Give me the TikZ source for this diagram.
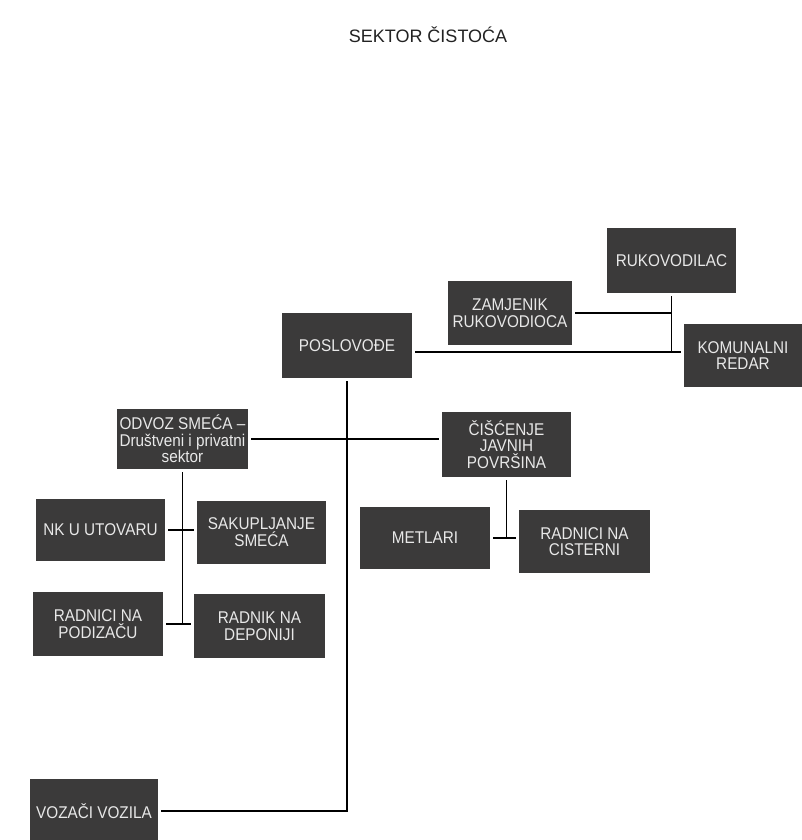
\documentclass[tikz,border=0pt]{standalone}
\usepackage{fontspec}
\setmainfont{Liberation Sans}
\newfontfamily\boxfont[FakeStretch=0.9]{Liberation Sans}
\definecolor{boxfill}{HTML}{3B3A3A}
\definecolor{boxtext}{HTML}{E8E8E8}
\definecolor{titletext}{HTML}{222222}
\tikzset{
  box/.style={fill=boxfill, text=boxtext, align=center, inner sep=1pt, outer sep=3pt,
    minimum width=130pt, minimum height=63pt, font=\boxfont\fontsize{17}{16.5}\selectfont},
  link/.style={line width=1.6pt, black}
}
\begin{document}
\begin{tikzpicture}[x=1pt, y=-1pt]
		\path[use as bounding box, fill=white] (0,0) rectangle (802,840);
		
		\node[text=titletext, font=\fontsize{18}{18}\selectfont] (title) at (428,35) {SEKTOR ČISTOĆA};
		
		\node[box, minimum width=129pt, minimum height=65pt] (ruk) at (671.5,260.5) {RUKOVODILAC};
		\node[box, minimum width=124pt, minimum height=64pt] (zam) at (510,313) {ZAMJENIK\\RUKOVODIOCA};
		\node[box, minimum height=65pt] (posl) at (347,345.5) {POSLOVOĐE};
		\node[box, minimum width=118pt] (kom) at (743,355.5) {KOMUNALNI\\REDAR};
		
		\node[box, minimum width=131pt, minimum height=60pt] (odv) at (182.5,439) {ODVOZ SMEĆA –\\Društveni i privatni\\sektor};
		\node[box, minimum width=129pt, minimum height=65pt] (cis) at (506.5,444.5) {ČIŠĆENJE\\JAVNIH\\POVRŠINA};
		
		\node[box, minimum width=129pt, minimum height=62pt] (nk) at (100.5,530) {NK U UTOVARU};
		\node[box, minimum width=129pt] (sak) at (261.5,532) {SAKUPLJANJE\\SMEĆA};
		\node[box, minimum height=64pt] (rpod) at (98,624) {RADNICI NA\\PODIZAČU};
		\node[box, minimum width=131pt, minimum height=64pt] (rdep) at (259.5,626) {RADNIK NA\\DEPONIJI};
		
		\node[box, minimum height=62pt] (met) at (425,538) {METLARI};
		\node[box, minimum width=131pt] (rcis) at (584.5,541.5) {RADNICI NA\\CISTERNI};
		
		\node[box, minimum width=128pt, minimum height=64pt] (voz) at (94,811) {VOZAČI VOZILA};
		
		\coordinate (jr) at (670,352);
		\draw[link] (ruk.south) -- (ruk.south |- jr);
		\draw[link] (zam.east) -- (zam.east -| ruk.south);
		\draw[link] (posl.east |- jr) -- (kom.west |- jr);
		
		\draw[link] (posl.south) |- (voz.east);
		\draw[link] (odv.east) -- (odv.east -| cis.west);
		
		\draw[link] (odv.south) -- (odv.south |- rpod.east);
		\draw[link] (nk.east) -- (nk.east -| sak.west);
		\draw[link] (rpod.east) -- (rpod.east -| rdep.west);
		
		\draw[link] (cis.south) -- (cis.south |- met.east);
		\draw[link] (met.east) -- (met.east -| rcis.west);
	\end{tikzpicture}
\end{document}
